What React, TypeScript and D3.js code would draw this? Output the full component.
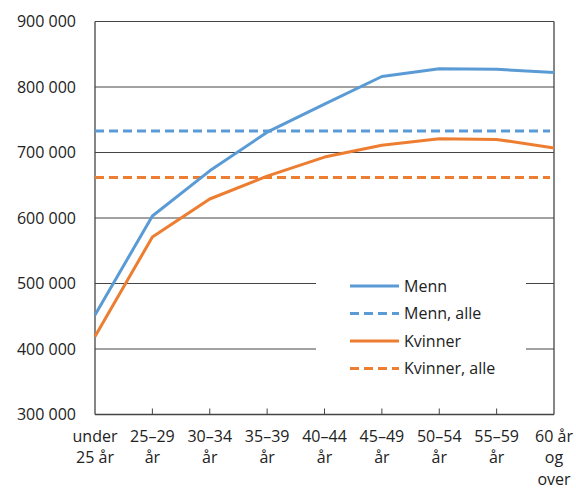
import React from "react";
import * as d3 from "d3";

const categories: string[][] = [
  ["under", "25 år"],
  ["25–29", "år"],
  ["30–34", "år"],
  ["35–39", "år"],
  ["40–44", "år"],
  ["45–49", "år"],
  ["50–54", "år"],
  ["55–59", "år"],
  ["60 år", "og", "over"],
];
const menn = [452000, 603000, 672000, 731000, 774000, 816000, 828000, 827000, 822000];
const kvinner = [419000, 571000, 629000, 664000, 693000, 711000, 721000, 720000, 707000];
const mennAlle = 733000;
const kvinnerAlle = 662000;
const yTicks = [300000, 400000, 500000, 600000, 700000, 800000, 900000];
const legendItems = [
  { label: "Menn", color: "#5B9BD5", dashed: false },
  { label: "Menn, alle", color: "#5B9BD5", dashed: true },
  { label: "Kvinner", color: "#ED7D31", dashed: false },
  { label: "Kvinner, alle", color: "#ED7D31", dashed: true },
];

const W = 576, H = 489;
const L = 95, R = 554, T = 21.5, B = 414.5;
const FONT = "'Open Sans', sans-serif";

export default function App() {
  const x = d3.scalePoint<number>().domain(d3.range(categories.length)).range([L, R]).padding(0);
  const y = d3.scaleLinear().domain([300000, 900000]).range([B, T]);
  const line = d3.line<number>().x((_, i) => x(i)!).y((d) => y(d));
  const fmt = (v: number) => d3.format(",")(v).replace(/,/g, " ");
  const blue = "#5B9BD5", orange = "#ED7D31";
  return (
    <svg width={W} height={H} style={{ position: "absolute", left: 0, top: 0 }} fontFamily={FONT}>
      <rect width={W} height={H} fill="#fff" />
      {yTicks.map((t) => (
        <g key={t}>
          <line x1={L} x2={R} y1={y(t)} y2={y(t)} stroke="#444" strokeWidth={1} />
          <text x={76} y={y(t)} dy="0.35em" textAnchor="end" fontSize={16} fill="#222">{fmt(t)}</text>
        </g>
      ))}
      <line x1={L} x2={L} y1={T} y2={B} stroke="#444" strokeWidth={1.3} />
      <line x1={R} x2={R} y1={T} y2={B} stroke="#444" strokeWidth={1.3} />
      <line x1={L} x2={R} y1={B} y2={B} stroke="#444" strokeWidth={1.3} />
      {categories.map((c, i) => (
        <g key={i}>
          {i > 0 && i < categories.length - 1 && (
            <line x1={x(i)} x2={x(i)} y1={B} y2={B - 6} stroke="#444" strokeWidth={1} />
          )}
          {c.map((s, j) => (
            <text key={j} x={x(i)} y={436 + j * 21.5} dy="0.35em" textAnchor="middle" fontSize={16} fill="#222">{s}</text>
          ))}
        </g>
      ))}
      <line x1={L} x2={550} y1={y(mennAlle)} y2={y(mennAlle)} stroke={blue} strokeWidth={3} strokeDasharray="9,5" />
      <line x1={L} x2={550} y1={y(kvinnerAlle)} y2={y(kvinnerAlle)} stroke={orange} strokeWidth={3} strokeDasharray="9,5" />
      <path d={line(menn) || ""} fill="none" stroke={blue} strokeWidth={3} strokeLinejoin="round" />
      <path d={line(kvinner) || ""} fill="none" stroke={orange} strokeWidth={3} strokeLinejoin="round" />
      <rect x={316} y={266} width={210} height={118} fill="#fff" />
      {legendItems.map((it, i) => {
        const yy = 286 + i * 27.5;
        return (
          <g key={it.label}>
            <line x1={350} x2={399} y1={yy} y2={yy} stroke={it.color} strokeWidth={3} strokeDasharray={it.dashed ? "9,5" : undefined} />
            <text x={404} y={yy} dy="0.35em" fontSize={16} fill="#222">{it.label}</text>
          </g>
        );
      })}
    </svg>
  );
}
